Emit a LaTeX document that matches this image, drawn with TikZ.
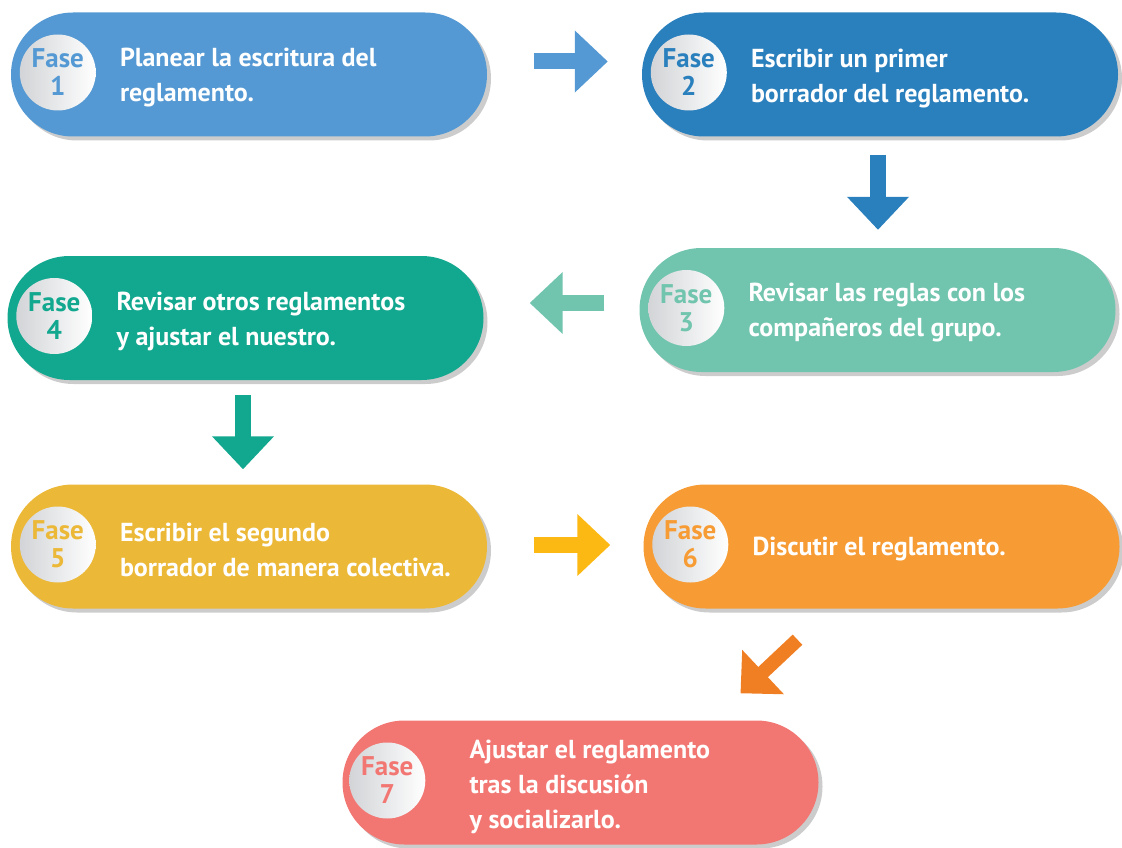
\documentclass[tikz,border=0pt]{standalone}
\usepackage{fontspec}
\setmainfont{PT Sans}
\usetikzlibrary{shapes.misc,shadows,arrows.meta}

\definecolor{azulcl}{HTML}{5499D3}
\definecolor{azulos}{HTML}{2A7FBD}
\definecolor{verdecl}{HTML}{71C5AE}
\definecolor{verdeos}{HTML}{12A88F}
\definecolor{amarillo}{HTML}{ECB837}
\definecolor{amarillofl}{HTML}{FDB913}
\definecolor{naranja}{HTML}{F79C34}
\definecolor{naranjafl}{HTML}{F07E23}
\definecolor{salmon}{HTML}{F27773}
\definecolor{grisdisco}{HTML}{D2D4D7}

\begin{document}
\begin{tikzpicture}[x=1pt,y=-1pt]
    \tikzstyle{caja}=[rounded rectangle, minimum width=476pt, minimum height=124pt, inner sep=0pt,
        drop shadow={shadow xshift=4pt, shadow yshift=-4pt, fill=black!40}]
    \tikzstyle{circ}=[circle, minimum size=76pt, inner sep=0pt, left color=grisdisco, right color=white,
        align=center, font=\bfseries\fontsize{27}{28}\selectfont]
    \tikzstyle{texto}=[anchor=west, align=left, text=white, inner sep=0pt,
        font=\bfseries\fontsize{26}{35}\selectfont]
    \tikzstyle{flecha}=[line width=16pt, -{Triangle[length=33pt,width=60pt]}]

    \useasboundingbox (0,0) rectangle (1122,848);

    % cajas
    \node[caja, fill=azulcl]  (f1) at (249,74.5) {};
    \node[caja, fill=azulos]  (f2) at (880,74.5) {};
    \node[caja, fill=verdecl] (f3) at (877.5,310) {};
    \node[caja, fill=verdeos] (f4) at (245.5,318) {};
    \node[caja, fill=amarillo] (f5) at (249,546.5) {};
    \node[caja, fill=naranja] (f6) at (881.5,546.5) {};
    \node[caja, fill=salmon]  (f7) at (580.5,782.5) {};

    % circulos
    \node[circ, text=azulcl]  (c1) at ([xshift=47pt,yshift=2pt]f1.west) {Fase\\1};
    \node[circ, text=azulos]  (c2) at ([xshift=47pt,yshift=2pt]f2.west) {Fase\\2};
    \node[circ, text=verdecl] (c3) at ([xshift=47pt,yshift=2pt]f3.west) {Fase\\3};
    \node[circ, text=verdeos] (c4) at ([xshift=47pt,yshift=2pt]f4.west) {Fase\\4};
    \node[circ, text=amarillo] (c5) at ([xshift=47pt,yshift=2pt]f5.west) {Fase\\5};
    \node[circ, text=naranja] (c6) at ([xshift=47pt,yshift=2pt]f6.west) {Fase\\6};
    \node[circ, text=salmon]  (c7) at ([xshift=45pt,yshift=2pt]f7.west) {Fase\\7};

    % textos
    \node[texto] (t1) at ([xshift=109pt,yshift=-3pt]f1.west) {Planear la escritura del\\reglamento.};
    \node[texto] (t2) at ([xshift=109pt,yshift=-4pt]f2.west) {Escribir un primer\\borrador del reglamento.};
    \node[texto] (t3) at ([xshift=109pt,yshift=-3pt]f3.west) {Revisar las reglas con los\\compañeros del grupo.};
    \node[texto] (t4) at ([xshift=109pt,yshift=-3pt]f4.west) {Revisar otros reglamentos\\y ajustar el nuestro.};
    \node[texto] (t5) at ([xshift=109pt,yshift=-3pt]f5.west) {Escribir el segundo\\borrador de manera colectiva.};
    \node[texto] (t6) at ([xshift=109pt,yshift=-3pt]f6.west) {Discutir el reglamento.};
    \node[texto] (t7) at ([xshift=127pt,yshift=-4pt]f7.west) {Ajustar el reglamento\\tras la discusión\\y socializarlo.};

    % flechas
    \draw[flecha, azulcl]  ([xshift=47pt,yshift=13pt]f1.east) -- ([xshift=-34pt,yshift=13pt]f2.west);
    \draw[flecha, azulos]  ([xshift=-2pt,yshift=-18pt]f2.south) -- ([xshift=0.5pt,yshift=18pt]f3.north);
    \draw[flecha, verdecl] ([xshift=-35pt,yshift=7pt]f3.west) -- ([xshift=46pt,yshift=15pt]f4.east);
    \draw[flecha, verdeos] ([xshift=-2.5pt,yshift=-15pt]f4.south) -- ([xshift=-6pt,yshift=15pt]f5.north);
    \draw[flecha, amarillofl] ([xshift=47pt,yshift=1.5pt]f5.east) -- ([xshift=-33pt,yshift=1.5pt]f6.west);
    \draw[flecha, naranjafl, line width=14pt, -{Triangle[length=31pt,width=59pt]}]
        ([xshift=-84pt,yshift=-31pt]f6.south) -- ([xshift=160pt,yshift=27pt]f7.north);
\end{tikzpicture}
\end{document}
